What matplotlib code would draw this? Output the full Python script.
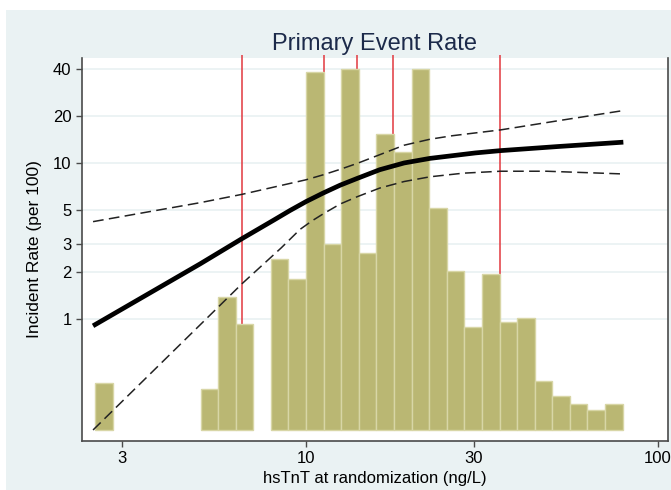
import matplotlib
matplotlib.use('Agg')
import matplotlib.pyplot as plt
from matplotlib.patches import Rectangle

plt.rcParams['font.family'] = ['Liberation Sans', 'DejaVu Sans']

# histogram bins (lower edge, log10 ng/L) and bar heights (per 100)
bin_log_lo = [0.40, 0.70, 0.75, 0.80,
              0.90, 0.95, 1.00, 1.05, 1.10, 1.15, 1.20, 1.25, 1.30, 1.35,
              1.40, 1.45, 1.50, 1.55, 1.60, 1.65, 1.70, 1.75, 1.80, 1.85]
bin_log_width = 0.05
bar_rate = [0.385, 0.352, 1.37, 0.93,
            2.42, 1.79, 38.3, 3.0, 40.2, 2.65, 15.3, 11.7, 40.2, 5.12,
            2.03, 0.889, 1.94, 0.957, 1.01, 0.40, 0.32, 0.283, 0.258, 0.283]
bar_base = 0.193

# cut points (red lines)
cut_points = [6.58, 11.23, 13.99, 17.71, 35.7]

# fitted rate and confidence band
fit_x = [2.48, 5.0, 6.58, 8.1, 9.0, 10.0, 11.2, 12.5, 14.0, 16.2, 19.0, 22.5, 30.3, 35.7, 52.0, 79.8]
fit_y = [0.90, 2.25, 3.27, 4.3, 4.95, 5.65, 6.42, 7.2, 7.97, 9.05, 10.0, 10.7, 11.6, 12.0, 12.75, 13.6]

upper_x = [2.48, 5.0, 6.58, 10.0, 11.2, 12.5, 14.0, 16.2, 19.0, 22.5, 26.0, 30.0, 35.7, 53.9, 79.8]
upper_y = [4.2, 5.56, 6.29, 7.8, 8.4, 9.1, 9.95, 11.3, 13.0, 14.2, 14.95, 15.55, 16.3, 18.9, 21.7]

lower_x = [2.48, 6.58, 8.5, 9.62, 10.4, 11.2, 12.5, 14.0, 16.2, 19.0, 22.5, 28.0, 35.7, 48.3, 79.8]
lower_y = [0.193, 1.68, 2.85, 3.75, 4.25, 4.72, 5.45, 6.08, 6.9, 7.6, 8.15, 8.6, 8.85, 8.85, 8.5]

y_ticks = [1, 2, 3, 5, 10, 20, 40]
x_ticks = [3, 10, 30, 100]

bg = '#eaf2f3'
bar_color = '#bab773'
bar_edge = '#d8d6a6'
frame = '#4a4a4a'

fig = plt.figure(figsize=(6.71, 4.90), dpi=100)
fig.patch.set_facecolor(bg)
# thin white strips along the top and left edge
fig.patches.append(Rectangle((0, 1 - 10 / 490), 1, 10 / 490, transform=fig.transFigure,
                             facecolor='white', edgecolor='none'))
fig.patches.append(Rectangle((0, 0), 6 / 671, 1, transform=fig.transFigure,
                             facecolor='white', edgecolor='none'))

ax = fig.add_axes([82 / 671, 1 - 441 / 490, 586 / 671, 383 / 490])
ax.set_facecolor('white')
ax.set_xscale('log')
ax.set_yscale('log')
ax.set_xlim(2.307, 106.9)
ax.set_ylim(0.164, 47.2)

for v in y_ticks:
    ax.axhline(v, color=bg, lw=1.3, zorder=0.5)

ax.vlines(cut_points, bar_base, 49.4, colors='#e2383f', lw=1.1, zorder=1, clip_on=False)

lefts = [10 ** b for b in bin_log_lo]
widths = [10 ** (b + bin_log_width) - 10 ** b for b in bin_log_lo]
heights = [r - bar_base for r in bar_rate]
ax.bar(lefts, heights, width=widths, bottom=bar_base, align='edge',
       color=bar_color, edgecolor=bar_edge, linewidth=1.0, zorder=2)

ax.plot(upper_x, upper_y, color='#222222', lw=1.1, dashes=(7, 3.5), zorder=3)
ax.plot(lower_x, lower_y, color='#222222', lw=1.1, dashes=(7, 3.5), zorder=3)
ax.plot(fit_x, fit_y, color='black', lw=3.4, solid_capstyle='butt',
        solid_joinstyle='round', zorder=4)

ax.set_xticks(x_ticks)
ax.set_xticklabels([str(t) for t in x_ticks])
ax.set_yticks(y_ticks)
ax.set_yticklabels([str(t) for t in y_ticks])
ax.minorticks_off()
ax.tick_params(axis='both', direction='out', length=4.5, width=1.0, color=frame,
               labelsize=12, labelcolor='black', pad=3)

for side in ['left', 'bottom', 'right']:
    ax.spines[side].set_color(frame)
    ax.spines[side].set_linewidth(1.2)
ax.spines['top'].set_visible(False)

ax.set_title('Primary Event Rate', fontsize=17, color='#1c2a4a', pad=6)
ax.set_xlabel('hsTnT at randomization (ng/L)', fontsize=12, labelpad=3)
ax.set_ylabel('Incident Rate (per 100)', fontsize=12.5, labelpad=8)

fig.savefig('out.png', dpi=100)
